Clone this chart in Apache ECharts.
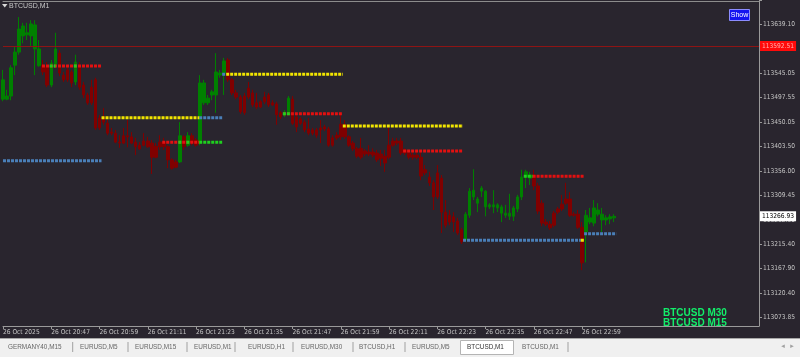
<!DOCTYPE html>
<html><head><meta charset="utf-8">
<script src="https://cdn.jsdelivr.net/npm/echarts@6/dist/echarts.min.js"></script>
<style>html,body{margin:0;padding:0;background:#29252e;}#c{width:800px;height:357px;}</style>
</head><body><div id="c"></div>
<script>
// ---- data (BTCUSD, M1, 26 Oct 2025 from 20:35) ----
const firstBarTime = [20, 35];
const barOpen = [113491,113491,113497,113556,113581,113612,113614,113612,113587,113555,
113556,113553,113518,113553,113579,113537,113547,113543,113524,113556,
113518,113499,113514,113528,113455,113457,113445,113428,113426,113409,
113421,113421,113419,113409,113403,113411,113411,113407,113401,113409,
113409,113400,113375,113371,113371,113419,113403,113421,113413,113407,
113484,113484,113499,113499,113537,113541,113566,113528,113503,113495,
113497,113512,113503,113484,113486,113495,113499,113484,113482,113465,
113461,113466,113491,113457,113453,113447,113434,113432,113432,113436,
113438,113434,113417,113422,113443,113442,113419,113407,113396,113397,
113392,113390,113390,113388,113386,113382,113403,113411,113411,113411,
113394,113388,113384,113384,113380,113356,113342,113331,113350,113340,
113275,113269,113266,113258,113241,113222,113269,113304,113292,113315,
113285,113285,113285,113283,113273,113269,113267,113267,113281,113304,
113342,113340,113346,113325,113292,113256,113252,113273,113281,113290,
113300,113300,113271,113271,113246,113237,113256,113254,113271,113260,
113260,113262,113264];
const barClose = [113528,113497,113551,113581,113625,113631,113618,113635,113633,113587,
113543,113518,113560,113587,113541,113528,113528,113522,113562,113514,
113499,113484,113484,113436,113436,113447,113426,113426,113409,113407,
113407,113419,113407,113400,113396,113403,113400,113380,113380,113400,
113400,113375,113359,113361,113421,113400,113421,113407,113403,113522,
113522,113493,113505,113543,113541,113564,113528,113503,113495,113467,
113465,113495,113480,113476,113476,113486,113480,113480,113461,113457,
113466,113493,113445,113438,113445,113432,113426,113426,113422,113432,
113434,113403,113403,113417,113419,113419,113403,113396,113382,113380,
113386,113386,113384,113375,113378,113369,113380,113403,113407,113388,
113388,113380,113380,113380,113344,113350,113331,113304,113304,113275,
113250,113256,113256,113235,113218,113271,113315,113317,113300,113321,
113315,113289,113289,113289,113285,113273,113273,113283,113304,113342,
113352,113346,113325,113277,113254,113252,113245,113250,113275,113281,
113292,113269,113269,113246,113178,113269,113264,113283,113279,113271,
113264,113266,113266.93];
const barLow = [113487,113489,113489,113537,113576,113598,113604,113591,113537,113553,
113537,113514,113514,113551,113535,113524,113524,113514,113518,113509,
113493,113480,113480,113432,113432,113442,113422,113422,113407,113398,
113405,113399,113405,113384,113394,113401,113398,113348,113378,113394,
113394,113359,113356,113359,113369,113394,113400,113403,113400,113403,
113480,113480,113489,113465,113532,113499,113524,113499,113491,113463,
113461,113491,113476,113472,113474,113482,113476,113478,113442,113453,
113457,113465,113442,113428,113442,113428,113422,113422,113417,113407,
113430,113400,113400,113413,113413,113415,113400,113392,113378,113376,
113382,113382,113380,113371,113363,113352,113376,113400,113403,113384,
113384,113376,113375,113376,113336,113346,113325,113279,113300,113235,
113245,113250,113237,113231,113214,113218,113264,113298,113275,113304,
113267,113281,113273,113275,113256,113264,113260,113258,113275,113298,
113321,113327,113317,113271,113248,113248,113241,113246,113271,113277,
113289,113266,113266,113243,113164,113179,113252,113248,113267,113237,
113250,113252,113256];
const barHigh = [113547,113509,113556,113591,113648,113637,113637,113642,113642,113604,
113566,113562,113566,113618,113585,113543,113555,113547,113576,113562,
113524,113503,113528,113532,113461,113474,113451,113436,113432,113422,
113436,113451,113428,113417,113409,113426,113419,113413,113407,113422,
113417,113403,113378,113375,113447,113422,113428,113426,113417,113537,
113528,113499,113509,113579,113547,113570,113570,113532,113509,113499,
113503,113524,113509,113503,113489,113505,113503,113489,113486,113468,
113470,113497,113497,113461,113457,113451,113455,113436,113436,113451,
113442,113438,113422,113428,113465,113451,113422,113411,113400,113417,
113396,113403,113397,113394,113394,113394,113436,113417,113417,113417,
113397,113394,113390,113392,113394,113365,113352,113336,113365,113346,
113298,113279,113275,113264,113245,113275,113321,113357,113304,113325,
113317,113292,113317,113292,113289,113289,113310,113287,113308,113356,
113356,113352,113356,113331,113298,113262,113258,113277,113285,113308,
113331,113313,113275,113279,113256,113279,113283,113298,113292,113283,
113269,113271,113271];

// indicator levels: [fromBar, toBar, price]
const redLevels = [[9.7,24.5,113554.5],[39.6,48.8,113408.5],[69.6,84.5,113463.2],[99.5,114.4,113391.9],[131.7,144.5,113343.5]];
const yellowLevels = [[24.5,48.8,113455.6],[55.5,84.5,113538.6],[84.5,114.4,113439.7],[143.7,144.5,113221.1]];
const blueLevels = [[0,24.5,113373.4],[48.8,54.5,113455.6],[54.5,55.5,113538.6],[114.4,143.7,113221.1],[144.5,152.5,113233.7]];
const greenLevels = [[11.6,13.1,113554.5],[17.6,18.6,113554.5],[43.6,44.6,113408.5],[45.6,46.6,113408.5],[48.8,54.5,113408.5],[69.6,71.6,113463.2],[129.5,131.7,113343.5]];

const askPrice = 113592.51, askText = '113592.51';
const bidPrice = 113266.93, bidText = '113266.93';

const priceTicks = ['113073.85','113120.40','113167.90','113215.40','113262.90','113309.45','113356.00','113403.50','113450.05','113497.55','113545.05','113592.55','113639.10'];
const timeLabels = ['26 Oct 2025','26 Oct 20:47','26 Oct 20:59','26 Oct 21:11','26 Oct 21:23','26 Oct 21:35','26 Oct 21:47','26 Oct 21:59','26 Oct 22:11','26 Oct 22:23','26 Oct 22:35','26 Oct 22:47','26 Oct 22:59'];
const labelStep = 12;
const tabNames = ['GERMANY40,M15','EURUSD,M5','EURUSD,M15','EURUSD,M1','EURUSD,H1','EURUSD,M30','BTCUSD,H1','EURUSD,M5','BTCUSD,M1','BTCUSD,M1'];
const activeTab = 8;
const symbolTitle = 'BTCUSD,M1';
const infoLines = ['BTCUSD M30','BTCUSD M15'];

// visible price range of the window
const priceMin = 113057.21, priceMax = 113678.75;
const slots = 189; // bar slots across the window

// ---- layout ----
const H = 357, gTop = 1, gBottom = 31, gRight = 41;
const tabX = [8,80,135,194,248,301,359,412,467,522];
const sepX = [72.7,128,187,235,293,353,405,568];
const FONT = "'Liberation Sans Narrow','DejaVu Sans Condensed','Liberation Sans',Arial,sans-serif";
const TABFONT = "'Liberation Sans',Arial,sans-serif";

const cats = [];
for (let i = 0; i < slots; i++) {
  if (i < barOpen.length) {
    const t = firstBarTime[0]*60 + firstBarTime[1] + i;
    cats.push(String(Math.floor(t/60)).padStart(2,'0') + ':' + String(t%60).padStart(2,'0'));
  } else cats.push('_' + i);
}
const candles = barOpen.map((o,i)=>[o, barClose[i], barLow[i], barHigh[i]]);

// label axis: tick k <-> price p0 + k*pStep, drawn in a grid stretched so it matches the price grid
const p0 = parseFloat(priceTicks[0]);
const pStep = (parseFloat(priceTicks[priceTicks.length-1]) - p0) / (priceTicks.length-1);
const gH = H - gTop - gBottom;
const yOf = (p) => gTop + (priceMax - p) / (priceMax - priceMin) * gH;
const kLo = -1, kHi = priceTicks.length;
const lblTop = yOf(p0 + kHi*pStep), lblBottom = H - yOf(p0 + kLo*pStep);

function levelSeries(list, color) {
  return list.map(l => ({
    type:'line', xAxisIndex:1, yAxisIndex:0, data:[[l[0],l[2]],[l[1],l[2]]],
    symbol:'none', silent:true, animation:false, z:5,
    lineStyle:{color:color, width:3, type:[3,1], cap:'butt'}
  }));
}
const showTick = (idx) => idx % labelStep === 0 && idx/labelStep < timeLabels.length;

const graphics = [
  {type:'polygon', shape:{points:[[2,4],[7.5,4],[4.75,7.5]]}, style:{fill:'#d8d8d8'}},
  {type:'text', left:9, top:2.5, style:{text:symbolTitle, fill:'#c8c8c8', font:'7px '+TABFONT}},
  {type:'rect', shape:{x:729.5,y:9.5,width:20,height:11}, style:{fill:'#1414f0', stroke:'#8c8cff', lineWidth:1}},
  {type:'text', x:739.5, y:15, style:{text:'Show', fill:'#ffffff', font:'7px '+TABFONT, align:'center', verticalAlign:'middle'}},
  {type:'text', x:663, y:313.5, style:{text:infoLines[0], fill:'#12ee6a', font:'bold 10px '+TABFONT, verticalAlign:'middle'}},
  {type:'text', x:663, y:323.5, style:{text:infoLines[1], fill:'#12ee6a', font:'bold 10px '+TABFONT, verticalAlign:'middle'}},
  {type:'rect', z:100, shape:{x:0,y:338,width:800,height:19}, style:{fill:'#f0f0f0'}},
  {type:'line', z:101, shape:{x1:0,y1:338.5,x2:800,y2:338.5}, style:{stroke:'#a8a8a8', lineWidth:1}},
  {type:'rect', z:101, shape:{x:460.5,y:340.5,width:53,height:14}, style:{fill:'#ffffff', stroke:'#b4b4b4', lineWidth:1}},
  {type:'text', z:101, x:783, y:346.5, style:{text:'◂', fill:'#a0a0a0', font:'7px DejaVu Sans', align:'center', verticalAlign:'middle'}},
  {type:'text', z:101, x:792, y:346.5, style:{text:'▸', fill:'#a0a0a0', font:'7px DejaVu Sans', align:'center', verticalAlign:'middle'}}
];
tabNames.forEach((n,i)=>graphics.push({type:'text', z:102, x:tabX[i], y:347, style:{text:n, fill: i===activeTab ? '#333333' : '#666666', font:'6.4px '+TABFONT, verticalAlign:'middle'}}));
sepX.forEach(x=>graphics.push({type:'line', z:101, shape:{x1:x,y1:342,x2:x,y2:352}, style:{stroke:'#a0a0a0', lineWidth:1}}));

const chart = echarts.init(document.getElementById('c'), null, {renderer:'canvas'});
chart.setOption({
  animation:false,
  backgroundColor:'#29252e',
  textStyle:{fontFamily:FONT},
  grid:[
    {left:0, right:gRight, top:gTop, bottom:gBottom, containLabel:false},
    {left:0, right:gRight, top:lblTop, bottom:lblBottom, containLabel:false}
  ],
  xAxis:[
    {type:'category', gridIndex:0, data:cats, boundaryGap:false, position:'bottom',
     axisLine:{show:true, onZero:false, lineStyle:{color:'#9a9a9a', width:1}},
     axisTick:{show:true, interval:(i)=>showTick(i), length:3, lineStyle:{color:'#9a9a9a'}},
     axisLabel:{interval:(i)=>showTick(i), formatter:(v,i)=>timeLabels[Math.round(i/labelStep)] || '', align:'left',
       color:'#c4c4c4', fontSize:6.6, margin:3, fontFamily:FONT},
     splitLine:{show:false}},
    {type:'value', gridIndex:0, min:0, max:slots-1, position:'top',
     axisLine:{show:true, onZero:false, lineStyle:{color:'#8c8c8c'}}, axisTick:{show:false}, axisLabel:{show:false}, splitLine:{show:false}},
    {type:'value', gridIndex:1, min:0, max:1, show:false, axisLine:{onZero:false}}
  ],
  yAxis:[
    {type:'value', gridIndex:0, min:priceMin, max:priceMax, position:'right',
     axisLine:{show:true, onZero:false, lineStyle:{color:'#9a9a9a'}}, axisTick:{show:false}, axisLabel:{show:false}, splitLine:{show:false}},
    {type:'value', gridIndex:1, position:'right', min:kLo, max:kHi, interval:1,
     axisLine:{show:false, onZero:false},
     axisTick:{show:true, length:3, lineStyle:{color:'#9a9a9a'}},
     axisLabel:{color:'#c4c4c4', fontSize:6.6, margin:4, fontFamily:FONT,
       formatter:(v)=>{const k=Math.round(v); return (Math.abs(v-k)<1e-6 && k>=0 && k<priceTicks.length) ? priceTicks[k] : '';}},
     splitLine:{show:false}}
  ],
  series:[
    {type:'candlestick', xAxisIndex:0, yAxisIndex:0, data:candles, barWidth:3, silent:true, z:2,
     itemStyle:{color:'#008000', color0:'#800000', borderColor:'#008000', borderColor0:'#800000', borderWidth:1},
     markLine:{silent:true, symbol:'none', animation:false, precision:2,
       data:[
         {yAxis:askPrice, lineStyle:{color:'#8e1414', width:1, type:'solid'},
          label:{show:true, position:'end', distance:1, formatter:askText, backgroundColor:'#ff0a0a', color:'#ffb0b0', fontSize:6.6, padding:[2,2,1,2], fontFamily:FONT}},
         {yAxis:bidPrice, lineStyle:{color:'rgba(0,0,0,0)', width:0},
          label:{show:true, position:'end', distance:1, formatter:bidText, backgroundColor:'#ffffff', color:'#000000', fontSize:6.6, padding:[2,2,1,2], fontFamily:FONT}}
       ]}
    },
    ...levelSeries(blueLevels, '#4a7fb8'),
    ...levelSeries(yellowLevels, '#f2e600'),
    ...levelSeries(redLevels, '#e31010'),
    ...levelSeries(greenLevels, '#1fd01f')
  ],
  graphic:graphics
});
</script>
</body></html>
